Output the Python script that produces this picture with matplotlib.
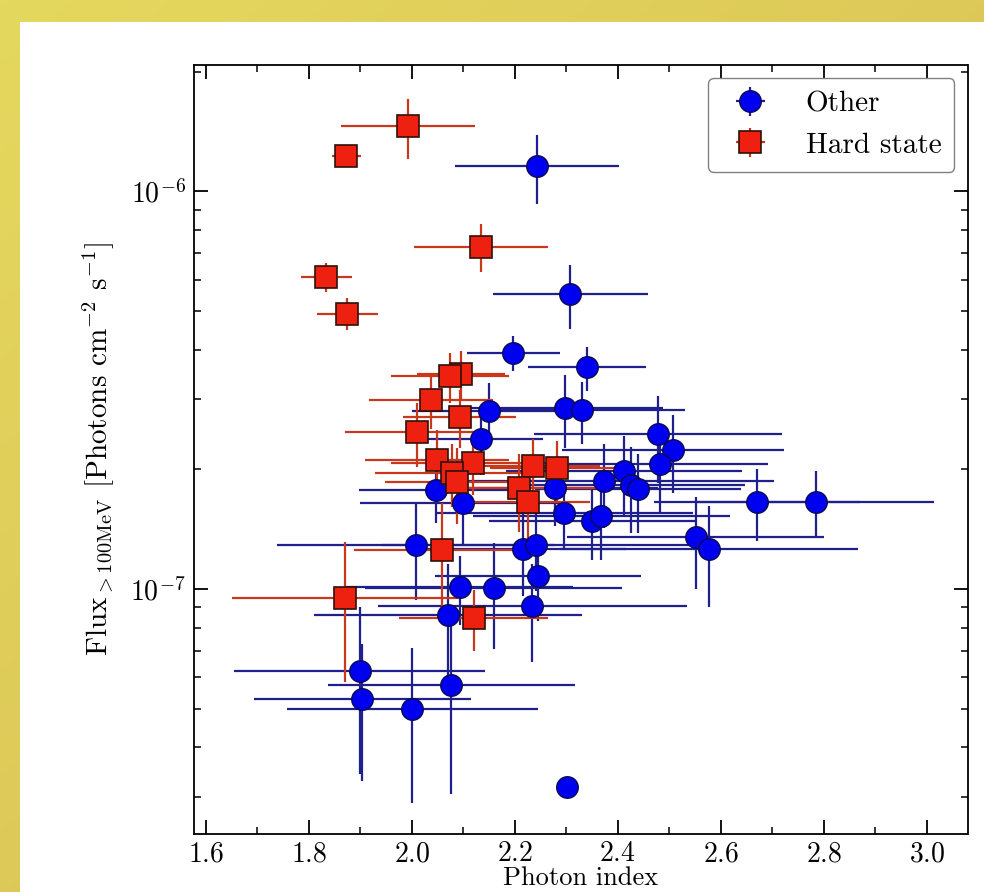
import matplotlib
matplotlib.use('Agg')
import matplotlib.pyplot as plt
import numpy as np
from matplotlib.patches import Rectangle
from matplotlib.ticker import LogLocator, MultipleLocator

plt.rcParams['font.family'] = 'serif'
plt.rcParams['font.serif'] = ['cmr10']
plt.rcParams['mathtext.fontset'] = 'cm'
plt.rcParams['axes.unicode_minus'] = False
plt.rcParams['axes.formatter.use_mathtext'] = True

# "Other" sources: photon index, flux, errors
other_index = [2.243, 2.308, 2.197, 2.340, 2.150, 2.297, 2.330, 2.135, 2.478, 2.507,
               2.482, 2.412, 2.373, 2.426, 2.440, 2.047, 2.278, 2.100, 2.296, 2.350,
               2.368, 2.671, 2.784, 2.551, 2.577, 2.008, 2.216, 2.242, 2.245, 2.093,
               2.159, 2.234, 2.070, 1.899, 1.904, 2.001, 2.077, 2.302]
other_flux = [1.16e-6, 5.52e-7, 3.93e-7, 3.61e-7, 2.80e-7, 2.86e-7, 2.82e-7, 2.39e-7, 2.45e-7, 2.24e-7,
              2.06e-7, 1.98e-7, 1.87e-7, 1.83e-7, 1.78e-7, 1.77e-7, 1.79e-7, 1.65e-7, 1.55e-7, 1.48e-7,
              1.53e-7, 1.66e-7, 1.66e-7, 1.35e-7, 1.26e-7, 1.29e-7, 1.26e-7, 1.29e-7, 1.08e-7, 1.01e-7,
              1.007e-7, 9.06e-8, 8.59e-8, 6.22e-8, 5.28e-8, 5.00e-8, 5.75e-8, 3.18e-8]
other_index_err = [0.16, 0.15, 0.09, 0.115, 0.15, 0.19, 0.20, 0.12, 0.24, 0.215,
                   0.21, 0.23, 0.33, 0.22, 0.20, 0.15, 0.20, 0.20, 0.25, 0.20,
                   0.25, 0.20, 0.23, 0.25, 0.29, 0.27, 0.20, 0.30, 0.20, 0.22,
                   0.25, 0.30, 0.26, 0.244, 0.21, 0.244, 0.24, 0.02]
other_flux_err = [2.3e-7, 1.0e-7, 4.0e-8, 4.6e-8, 5.0e-8, 6.0e-8, 5.0e-8, 4.5e-8, 6.0e-8, 5.0e-8,
                  5.0e-8, 4.5e-8, 4.5e-8, 4.5e-8, 4.0e-8, 3.0e-8, 3.5e-8, 3.5e-8, 3.0e-8, 3.0e-8,
                  3.5e-8, 3.4e-8, 3.2e-8, 3.5e-8, 3.6e-8, 3.5e-8, 3.0e-8, 3.0e-8, 2.5e-8, 2.0e-8,
                  3.0e-8, 2.5e-8, 3.0e-8, 2.8e-8, 2.0e-8, 2.1e-8, 2.7e-8, 1.0e-9]

# "Hard state" sources
hard_index = [1.993, 1.873, 2.135, 1.834, 1.875, 2.095, 2.074, 2.037, 2.093, 2.010,
              2.049, 2.119, 2.078, 2.088, 2.236, 2.281, 2.208, 2.225, 2.058, 1.870, 2.120]
hard_flux = [1.46e-6, 1.23e-6, 7.26e-7, 6.10e-7, 4.93e-7, 3.48e-7, 3.43e-7, 2.98e-7, 2.71e-7, 2.48e-7,
             2.11e-7, 2.07e-7, 1.96e-7, 1.86e-7, 2.04e-7, 2.01e-7, 1.79e-7, 1.66e-7, 1.25e-7, 9.47e-8, 8.47e-8]
hard_index_err = [0.13, 0.028, 0.13, 0.05, 0.06, 0.085, 0.115, 0.12, 0.11, 0.14,
                  0.14, 0.16, 0.15, 0.14, 0.13, 0.13, 0.15, 0.12, 0.17, 0.22, 0.145]
hard_flux_err = [2.5e-7, 5.0e-8, 1.0e-7, 5.0e-8, 4.5e-8, 5.0e-8, 5.0e-8, 4.5e-8, 4.5e-8, 4.5e-8,
                 4.0e-8, 3.5e-8, 3.5e-8, 4.0e-8, 3.5e-8, 3.5e-8, 4.0e-8, 3.5e-8, 4.0e-8, 3.65e-8, 1.5e-8]

fig = plt.figure(figsize=(9.84, 8.92), dpi=100)

# fond jaune dégradé + cadre blanc
bg = fig.add_axes([0, 0, 1, 1], zorder=-10)
bg.axis('off')
gx, gy = np.meshgrid(np.linspace(0, 1, 200), np.linspace(0, 1, 200))
t = (gx + gy) / 2
light = np.array([229, 216, 94]) / 255
dark = np.array([213, 186, 82]) / 255
img = light[None, None, :] * (1 - t[..., None]) + dark[None, None, :] * t[..., None]
bg.imshow(img, aspect='auto', extent=[0, 1, 0, 1], origin='upper')
bg.set_xlim(0, 1)
bg.set_ylim(0, 1)
fig.patches.append(Rectangle((20 / 984, 0), 1, (892 - 22) / 892, transform=fig.transFigure,
                             facecolor='white', edgecolor='none', zorder=-5))

ax = fig.add_axes([194 / 984, 58 / 892, (967.5 - 194) / 984, (834 - 65) / 892])

ax.errorbar(other_index, other_flux, xerr=other_index_err, yerr=other_flux_err,
            fmt='o', color='#0000f0', ecolor='#20208c', elinewidth=1.6, capsize=0,
            markersize=15.5, markeredgecolor='#0a0a50', markeredgewidth=1.0, label='Other')
ax.errorbar(hard_index, hard_flux, xerr=hard_index_err, yerr=hard_flux_err,
            fmt='s', color='#ee2010', ecolor='#c8381c', elinewidth=1.6, capsize=0,
            markersize=15.5, markeredgecolor='#301008', markeredgewidth=1.2, label='Hard state')

ax.set_yscale('log')
ax.set_xlim(1.577, 3.079)
ax.set_ylim(2.42e-8, 2.08e-6)
ax.xaxis.set_major_locator(MultipleLocator(0.2))
ax.xaxis.set_minor_locator(MultipleLocator(0.1))
ax.yaxis.set_minor_locator(LogLocator(base=10, subs=np.arange(2, 10)))
ax.yaxis.set_minor_formatter(plt.NullFormatter())

ax.tick_params(which='both', direction='in', top=True, right=True, labelsize=20)
ax.tick_params(which='major', length=10, width=1.3, pad=6)
ax.tick_params(axis='x', which='major', pad=5)
ax.tick_params(which='minor', length=5, width=1.1)
for s in ax.spines.values():
    s.set_linewidth(1.3)

ax.set_xlabel('Photon index', fontsize=19, labelpad=-1)
ax.set_ylabel(r'Flux$_{>100\mathrm{MeV}}$ [Photons cm$^{-2}$ s$^{-1}$]', fontsize=21, labelpad=10)

leg = ax.legend(loc='upper right', fontsize=21, numpoints=1, fancybox=True,
                edgecolor='#808080', framealpha=1, borderpad=0.45, handletextpad=0.9,
                borderaxespad=0.45)

plt.savefig('out.png', dpi=100)
plt.close()
